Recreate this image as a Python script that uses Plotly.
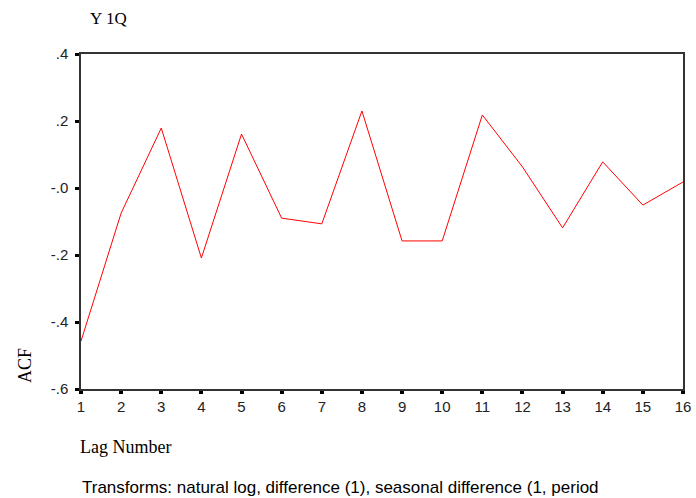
import plotly.graph_objects as go

# Autocorrelation of the transformed series by lag
lags = list(range(1, 17))
acf = [-0.457, -0.075, 0.179, -0.209, 0.161, -0.090, -0.107, 0.230,
       -0.158, -0.158, 0.218, 0.063, -0.119, 0.078, -0.051, 0.018]

y_tickvals = [0.4, 0.2, 0.0, -0.2, -0.4, -0.6]
y_ticktext = [".4", ".2", "-.0", "-.2", "-.4", "-.6"]

W, H = 696, 498
ML, MR, MT, MB = 81, 13, 54, 109

sans = "Liberation Sans, Arial, sans-serif"
serif = "Liberation Serif, Times New Roman, serif"

fig = go.Figure()
fig.add_trace(go.Scatter(
    x=lags, y=acf, mode="lines",
    line=dict(color="#ff0000", width=1),
    showlegend=False, hoverinfo="skip",
))

axis_common = dict(
    showgrid=False, zeroline=False, showline=True,
    linecolor="#333333", linewidth=1.5, mirror=True,
    ticks="outside", tickcolor="#000000", automargin=False,
    tickfont=dict(family=sans, size=15, color="#222222"),
)

fig.update_xaxes(
    range=[1, 16], tickvals=lags, ticktext=[str(v) for v in lags],
    ticklen=3, tickwidth=4, **axis_common,
)
fig.update_yaxes(
    range=[-0.6, 0.4], tickvals=y_tickvals, ticktext=y_ticktext,
    ticklen=4, tickwidth=3, ticklabelstandoff=4, **axis_common,
)

# Text placed in page pixels (left/centre x, middle y from the top)
labels = [
    dict(text="Y 1Q", px=88, py=19, xanchor="left", size=17, font=serif),
    dict(text="Lag Number", px=78, py=447, xanchor="left", size=18, font=serif),
    dict(text="ACF", px=25, py=366, xanchor="center", size=18, font=serif, angle=-90),
    dict(text="Transforms: natural log, difference (1), seasonal difference (1, period",
         px=80, py=487, xanchor="left", size=17, font=sans),
]

plot_w = W - ML - MR
plot_h = H - MT - MB
for a in labels:
    fig.add_annotation(
        text=a["text"],
        x=(a["px"] - ML) / plot_w,
        y=((H - a["py"]) - MB) / plot_h,
        xref="paper", yref="paper",
        xanchor=a["xanchor"], yanchor="middle",
        textangle=a.get("angle", 0), showarrow=False,
        font=dict(family=a["font"], size=a["size"], color="#000000"),
    )

fig.update_layout(
    width=W, height=H,
    margin=dict(l=ML, r=MR, t=MT, b=MB, autoexpand=False),
    paper_bgcolor="#ffffff", plot_bgcolor="#ffffff",
)

fig.write_html("out.html")
